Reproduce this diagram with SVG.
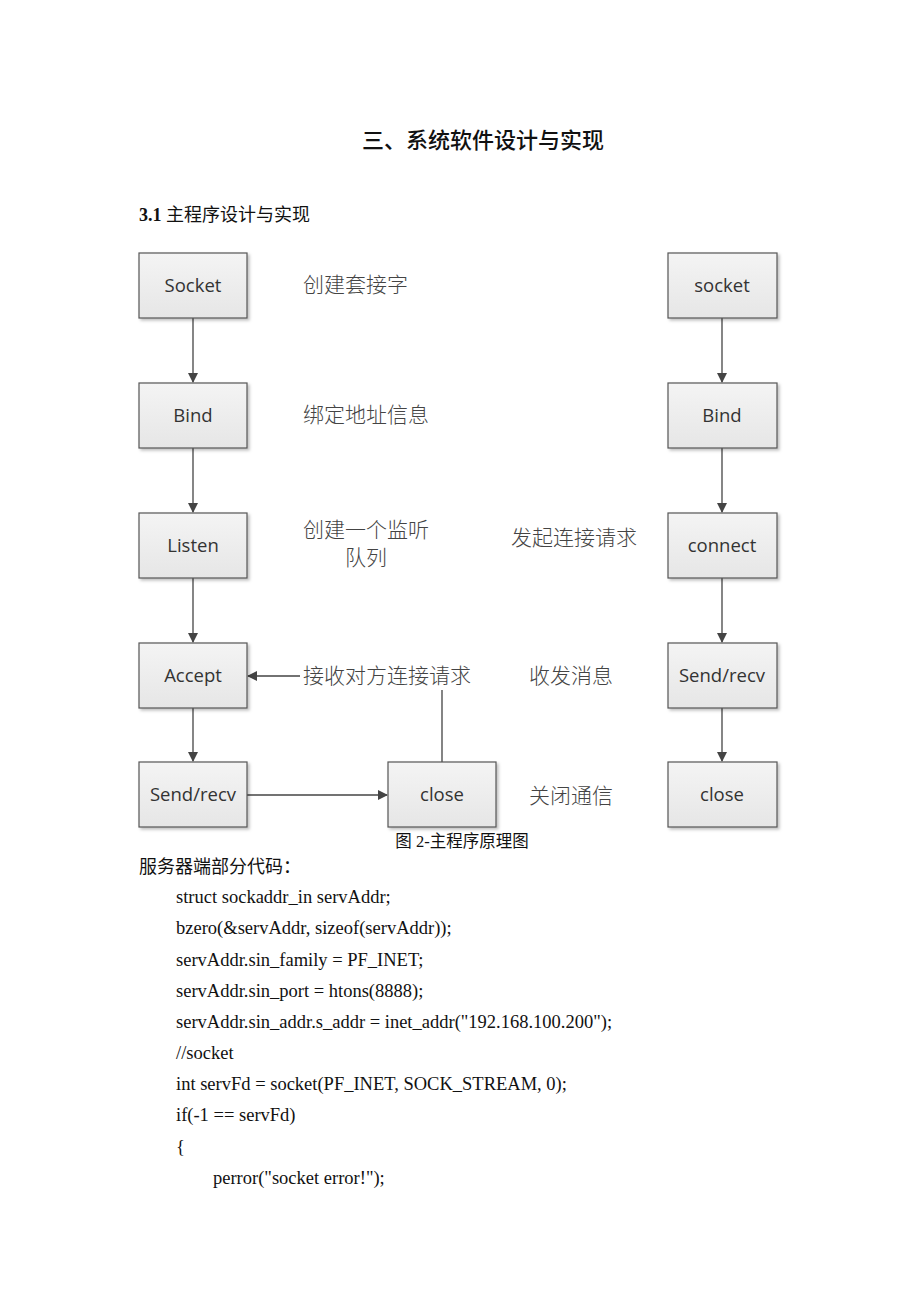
<svg xmlns="http://www.w3.org/2000/svg" width="920" height="1302" viewBox="0 0 920 1302">
<defs>
<linearGradient id="g" x1="0" y1="0" x2="0" y2="1"><stop offset="0" stop-color="#f4f4f4"/><stop offset="1" stop-color="#e6e6e6"/></linearGradient>
<marker id="ah" markerWidth="10" markerHeight="10" refX="9" refY="5" orient="auto" markerUnits="userSpaceOnUse"><path d="M0,0 L10,5 L0,10 z" fill="#444"/></marker>
<filter id="sh" x="-10%" y="-10%" width="130%" height="130%"><feDropShadow dx="2" dy="2" stdDeviation="1.5" flood-color="#000" flood-opacity="0.25"/></filter>
</defs>
<style>
.box{fill:url(#g);stroke:#555;stroke-width:1.2;filter:url(#sh)}
.bt{font-family:"Open Sans","Liberation Sans",sans-serif;font-size:18.5px;fill:#333;text-anchor:middle}
.lb{font-family:"Noto Sans CJK SC",sans-serif;font-size:21px;fill:#444;font-weight:300}
.cn{stroke:#444;stroke-width:1.3;fill:none}
.code{font-family:"Liberation Serif",serif;font-size:18.5px;fill:#111}
.cj{font-family:"Liberation Serif","Noto Sans CJK SC",serif;fill:#111}
</style>
<rect width="920" height="1302" fill="#fff"/>
<text x="483" y="148" class="cj" font-size="22" text-anchor="middle" font-weight="500">三、系统软件设计与实现</text>
<text x="139" y="221" class="cj" font-size="18"><tspan font-weight="bold">3.1</tspan> 主程序设计与实现</text>

<g id="connectors">
<line class="cn" x1="193" y1="318" x2="193" y2="382" marker-end="url(#ah)"/>
<line class="cn" x1="193" y1="448" x2="193" y2="512" marker-end="url(#ah)"/>
<line class="cn" x1="193" y1="578" x2="193" y2="642" marker-end="url(#ah)"/>
<line class="cn" x1="193" y1="708" x2="193" y2="761" marker-end="url(#ah)"/>
<line class="cn" x1="247" y1="795" x2="387" y2="795" marker-end="url(#ah)"/>
<polyline class="cn" points="442,762 442,676 248,676" marker-end="url(#ah)"/>
<line class="cn" x1="722" y1="318" x2="722" y2="382" marker-end="url(#ah)"/>
<line class="cn" x1="722" y1="448" x2="722" y2="512" marker-end="url(#ah)"/>
<line class="cn" x1="722" y1="578" x2="722" y2="642" marker-end="url(#ah)"/>
<line class="cn" x1="722" y1="708" x2="722" y2="761" marker-end="url(#ah)"/>
</g>

<g id="n-socket"><rect class="box" x="139" y="253" width="108" height="65"/><text class="bt" x="193" y="292">Socket</text></g>
<g id="n-bind"><rect class="box" x="139" y="383" width="108" height="65"/><text class="bt" x="193" y="422">Bind</text></g>
<g id="n-listen"><rect class="box" x="139" y="513" width="108" height="65"/><text class="bt" x="193" y="552">Listen</text></g>
<g id="n-accept"><rect class="box" x="139" y="643" width="108" height="65"/><text class="bt" x="193" y="682">Accept</text></g>
<g id="n-sendrecv"><rect class="box" x="139" y="762" width="108" height="65"/><text class="bt" x="193" y="801">Send/recv</text></g>
<g id="n-close"><rect class="box" x="388" y="762" width="108" height="65"/><text class="bt" x="442" y="801">close</text></g>

<g id="c-socket"><rect class="box" x="668" y="253" width="109" height="65"/><text class="bt" x="722" y="292">socket</text></g>
<g id="c-bind"><rect class="box" x="668" y="383" width="109" height="65"/><text class="bt" x="722" y="422">Bind</text></g>
<g id="c-connect"><rect class="box" x="668" y="513" width="109" height="65"/><text class="bt" x="722" y="552">connect</text></g>
<g id="c-sendrecv"><rect class="box" x="668" y="643" width="109" height="65"/><text class="bt" x="722" y="682">Send/recv</text></g>
<g id="c-close"><rect class="box" x="668" y="762" width="109" height="65"/><text class="bt" x="722" y="801">close</text></g>

<g id="labels">
<text class="lb" x="303" y="292">创建套接字</text>
<text class="lb" x="303" y="422">绑定地址信息</text>
<text class="lb" x="303" y="537">创建一个监听</text>
<text class="lb" x="366" y="565" text-anchor="middle">队列</text>
<text class="lb" x="511" y="545">发起连接请求</text>
<rect x="300" y="662" width="174" height="28" fill="#fff"/>
<text class="lb" x="303" y="683">接收对方连接请求</text>
<text class="lb" x="529" y="683">收发消息</text>
<text class="lb" x="529" y="803">关闭通信</text>
</g>

<text x="462" y="847" class="cj" font-size="16.5" text-anchor="middle" fill="#222">图 2-主程序原理图</text>
<text x="139" y="873" class="cj" font-size="18">服务器端部分代码：</text>
<g class="code">
<text x="176" y="903">struct sockaddr_in servAddr;</text>
<text x="176" y="934">bzero(&amp;servAddr, sizeof(servAddr));</text>
<text x="176" y="966">servAddr.sin_family = PF_INET;</text>
<text x="176" y="997">servAddr.sin_port = htons(8888);</text>
<text x="176" y="1028">servAddr.sin_addr.s_addr = inet_addr("192.168.100.200");</text>
<text x="176" y="1059">//socket</text>
<text x="176" y="1090">int servFd = socket(PF_INET, SOCK_STREAM, 0);</text>
<text x="176" y="1121">if(-1 == servFd)</text>
<text x="176" y="1153">{</text>
<text x="213" y="1184">perror("socket error!");</text>
</g>
</svg>
